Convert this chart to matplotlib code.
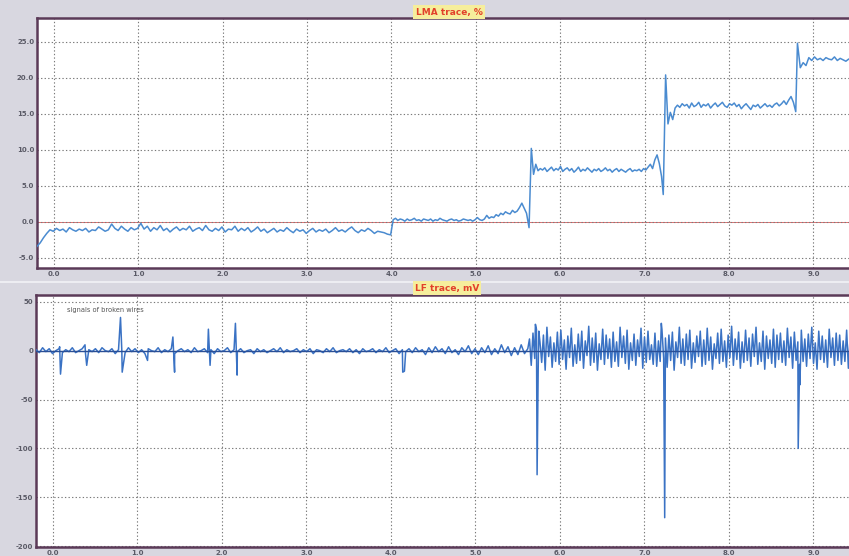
import matplotlib
matplotlib.use("Agg")
import matplotlib.pyplot as plt
from matplotlib.lines import Line2D
import numpy as np

# ---- LMA trace, % (segments: start time, end time, values) ----
lma_seg_a = [-3.4, -2.9, -2.2, -1.6, -1.1, -1.3, -0.9, -1.2, -1.0, -1.4, -0.8, -1.1, -1.3, -1.0,
             -1.2, -0.9, -1.4, -1.1, -1.2, -0.7, -1.0, -1.3, -1.1, -0.3, -0.9, -1.2, -0.6, -1.0,
             -1.3, -0.8, -1.1, -0.9, -0.2, -1.0, -0.6, -1.3, -0.8, -1.1, -0.5, -1.2, -0.9, -1.4,
             -1.0, -0.7, -1.2, -0.9, -1.1, -0.6, -1.3, -1.0, -0.8, -1.2, -0.5, -1.1, -1.3, -0.9,
             -1.2, -0.7, -1.4, -1.0, -1.1, -0.6, -1.3, -0.9, -1.2, -0.8, -1.4, -1.1, -0.7, -1.3,
             -1.0, -1.5, -1.2, -0.9, -1.4, -1.1, -1.3, -0.8, -1.2, -1.5, -1.0, -1.3, -1.1, -1.6,
             -1.2, -0.9, -1.4, -1.1, -1.3, -1.0, -1.5, -1.2, -0.8, -1.3, -1.1, -1.4, -1.0, -0.7,
             -1.2, -1.5, -1.1, -1.3, -0.9, -1.2, -1.6, -1.3, -1.4, -1.5, -1.7, -1.8]
lma_seg_b = [0.3, 0.5, 0.2, 0.4, 0.3, 0.1, 0.4, 0.2, 0.3, 0.5, 0.2, 0.3, 0.1, 0.4, 0.3, 0.2,
             0.4, 0.1, 0.3, 0.2, 0.5, 0.3, 0.2, 0.1, 0.3, 0.4, 0.2, 0.3, 0.1, 0.2, 0.4, 0.3,
             0.2, 0.3, 0.1, 0.3, 0.6, 0.3, 0.2, 0.4, 0.9, 0.5, 0.7, 0.6, 1.0, 0.8, 1.2, 1.0,
             1.4, 1.2, 1.1, 1.6, 1.3, 1.5, 2.0, 2.6, 1.9, 1.2]
lma_seg_c = [-0.8, 10.2, 6.6, 8.0, 7.1, 7.4, 7.2, 7.5, 7.0, 7.3, 7.6, 7.1, 7.4, 7.2, 7.7, 7.0,
             7.3, 7.5, 7.1, 7.4, 6.9, 7.2, 7.6, 7.0, 7.3, 7.1, 7.5, 7.2, 6.9, 7.3, 7.1, 7.4,
             7.0, 7.2, 7.5, 7.1, 7.3, 6.9, 7.2, 7.4, 7.0, 7.3, 7.1, 6.9, 7.2, 7.4, 7.0, 7.2,
             7.1, 7.3, 7.0, 7.4, 7.2, 7.6, 8.0, 7.4, 8.6, 9.3, 8.1, 6.3]
lma_seg_d = [3.8, 20.4, 13.6, 15.2, 14.2, 15.8, 16.2, 15.9, 16.4, 16.1, 16.3, 15.8, 16.5, 16.0,
             16.2, 16.6, 15.9, 16.3, 16.1, 16.4, 15.8, 16.2, 16.5, 16.0, 16.3, 16.6, 16.1, 15.9,
             16.4, 16.2, 16.5, 16.0, 16.3, 15.7, 16.1, 16.4, 16.0, 15.6, 16.2, 16.0, 16.3, 15.8,
             16.1, 16.4, 16.0, 16.2, 15.9, 16.3, 16.5, 16.1, 16.4, 16.8, 16.3, 16.9, 17.4, 16.6, 15.3]
lma_seg_e = [24.8, 21.4, 22.1, 21.7, 22.8, 22.4, 22.9, 22.5, 22.7, 22.4, 22.8, 22.6, 22.5, 22.9,
             22.4, 22.7, 22.5, 22.3, 22.6, 22.4, 22.2, 22.5, 22.1, 22.3, 22.0]
lma_segments = [(-0.2, 3.99, lma_seg_a), (4.02, 5.60, lma_seg_b), (5.63, 7.20, lma_seg_c),
                (7.22, 8.79, lma_seg_d), (8.81, 9.62, lma_seg_e)]

# ---- LF trace, mV ----
lf_quiet = [1, -2, 3, -1, 2, -3, 0, 2, -2, 1, -1, 3, -2, 0, 2, -3, 1, -1, 2, -2, 3, 0, -1, 2, -3,
            1, 0, -2, 3, -1, 2, -2, 1, -3, 2, 0, -1, 3, -2, 1, -1, 2, -3, 0, 2, -1, 1, -2, 3, -1,
            0, 2, -2, 1, -3, 2, -1, 0, 3, -2, 1, -1, 2, -2, 0, 1, -3, 2, -1, 1, -2, 0, 2, -1, 3,
            -2, 1, -1, 0, 2, -2, 1, -1, 2, -3, 1, 0, -2, 2, -1, 3, -2, 0, 1, -1, 2, -2, 1, -3, 2,
            -1, 0, 2, -2, 1, -1, 3, -2, 0, 2, -3, 1, -1, 2, -2, 3, -1, 1, -4, 3, -2, 4, -1, 2, -3,
            4, -2, 1, -4, 3, -1, 5, -3, 2, -4, 3, -2, 5, -4, 2, -3, 6, -2, 4, -5, 3, -4, 6, -3, 2]
lf_noisy = [12, -15, 18, -8, 22, -18, 9, -12, 16, -20, 24, -6, 14, -17, 8, -11, 19, -14, 21, -9,
            11, -19, 15, -7, 23, -16, 6, -13, 17, -10, 20, -18, 10, -5, 25, -15, 13, -12, 18, -20,
            7, -9, 22, -14, 16, -8, 12, -17, 19, -11, 9, -16, 24, -7, 15, -13, 21, -19, 8, -10,
            17, -15, 11, -6, 23, -18, 14, -12, 20, -9, 6, -14, 18, -16, 10, -11, 22, -8, 13, -17,
            16, -10, 19, -20, 9, -7, 24, -13, 12, -15, 17, -9, 21, -18, 8, -12, 15, -6, 20, -16,
            11, -14, 23, -10, 14, -19, 7, -8, 18, -13, 22, -11, 10, -17, 16, -7, 25, -15, 12, -9,
            19, -18, 9, -12, 21, -10, 13, -16, 17, -6, 24, -14, 8, -11, 20, -19, 15, -8, 11, -13,
            22, -17, 16, -9, 18, -12, 10, -15, 23, -7, 14, -18, 19, -10, 9, -14, 21, -11, 12, -16,
            17, -8, 24, -13, 8, -19, 20, -9, 15, -12, 11, -17, 22, -7, 13, -15, 18, -10, 16, -14,
            10, -11, 21, -18, 14, -8, 19, -13, 12, -16, 23, -9, 17, -12]
lf_segments = [(-0.2, 5.62, lf_quiet), (5.64, 9.62, lf_noisy)]
spike_t = [0.08, 0.09, 0.38, 0.40, 0.80, 0.82, 1.12, 1.42, 1.44, 1.84, 1.86, 2.16, 2.18,
           4.14, 4.16, 5.71, 5.73, 5.75, 7.20, 7.24, 8.82, 8.84]
spike_v = [4, -24, 6, -15, 34, -22, -10, 14, -22, 22, -15, 28, -25,
           -22, -21, 27, -127, 20, 28, -171, -100, -35]

x_ticks = [0.0, 1.0, 2.0, 3.0, 4.0, 5.0, 6.0, 7.0, 8.0, 9.0]
lma_yticks = [-5.0, 0.0, 5.0, 10.0, 15.0, 20.0, 25.0]
lf_yticks = [-200, -150, -100, -50, 0, 50]


def build(segments):
    t, v = [], []
    for t0, t1, vals in segments:
        t.extend(np.linspace(t0, t1, len(vals)))
        v.extend(vals)
    return np.array(t), np.array(v, dtype=float)


lma_t, lma_v = build(lma_segments)
lf_t, lf_v = build(lf_segments)
lf_t = np.concatenate([lf_t, spike_t])
lf_v = np.concatenate([lf_v, spike_v])
order = np.argsort(lf_t, kind="stable")
lf_t, lf_v = lf_t[order], lf_v[order]

bg = "#d8d7e0"
frame = "#5b3a58"
W, H = 849, 556
fig = plt.figure(figsize=(W / 100, H / 100), dpi=100, facecolor=bg)


def px_axes(left, top, right, bottom):
    return fig.add_axes([left / W, 1 - bottom / H, (right - left) / W, (bottom - top) / H])


def style(ax, yticks, fmt, ylim):
    ax.set_facecolor("white")
    ax.set_xlim(-0.2, -0.2 + (866 - 37) / 84.4)
    ax.set_ylim(*ylim)
    ax.set_xticks(x_ticks)
    ax.set_xticklabels(["%.1f" % v for v in x_ticks])
    ax.set_yticks(yticks)
    ax.set_yticklabels([fmt % v for v in yticks])
    ax.tick_params(labelsize=5, colors="#5a5a66", length=0, pad=2)
    for lbl in ax.get_xticklabels() + ax.get_yticklabels():
        lbl.set_fontweight("bold")
    ax.grid(True, color="#7a7a7a", linestyle=(0, (1.2, 2.0)), linewidth=0.8)
    for s in ax.spines.values():
        s.set_color(frame)
        s.set_linewidth(1.8)


ax1 = px_axes(37, 18, 866, 268)
style(ax1, lma_yticks, "%.1f", (-6.4, 28.3))
ax1.axhline(0, color="#e07070", lw=0.7, zorder=1)
ax1.plot(lma_t, lma_v, color="#4a8bd0", lw=1.1, zorder=3)

ax2 = px_axes(36, 295, 866, 547)
style(ax2, lf_yticks, "%d", (-201, 57))
ax2.plot(lf_t, lf_v, color="#3a72c4", lw=1.1, zorder=3)
ax2.axhline(0, color="#2a4f96", lw=1.0, zorder=4)
ax2.text(0.17, 42, "signals of broken wires", fontsize=4.8, color="#555555", va="center")

title_box = dict(boxstyle="square,pad=0.25", fc="#f6ee9c", ec="none")
fig.text(449 / W, 1 - 12 / H, "LMA trace, %", fontsize=6.5, fontweight="bold", color="#e2402a",
         ha="center", va="center", bbox=title_box)
fig.text(447 / W, 1 - 288 / H, "LF trace, mV", fontsize=6.5, fontweight="bold", color="#e2402a",
         ha="center", va="center", bbox=title_box)
fig.add_artist(Line2D([0, 1], [1 - 282 / H, 1 - 282 / H], color="#f2f2f6", lw=1.2,
                      transform=fig.transFigure))

fig.savefig("out.png", dpi=100, facecolor=bg)
